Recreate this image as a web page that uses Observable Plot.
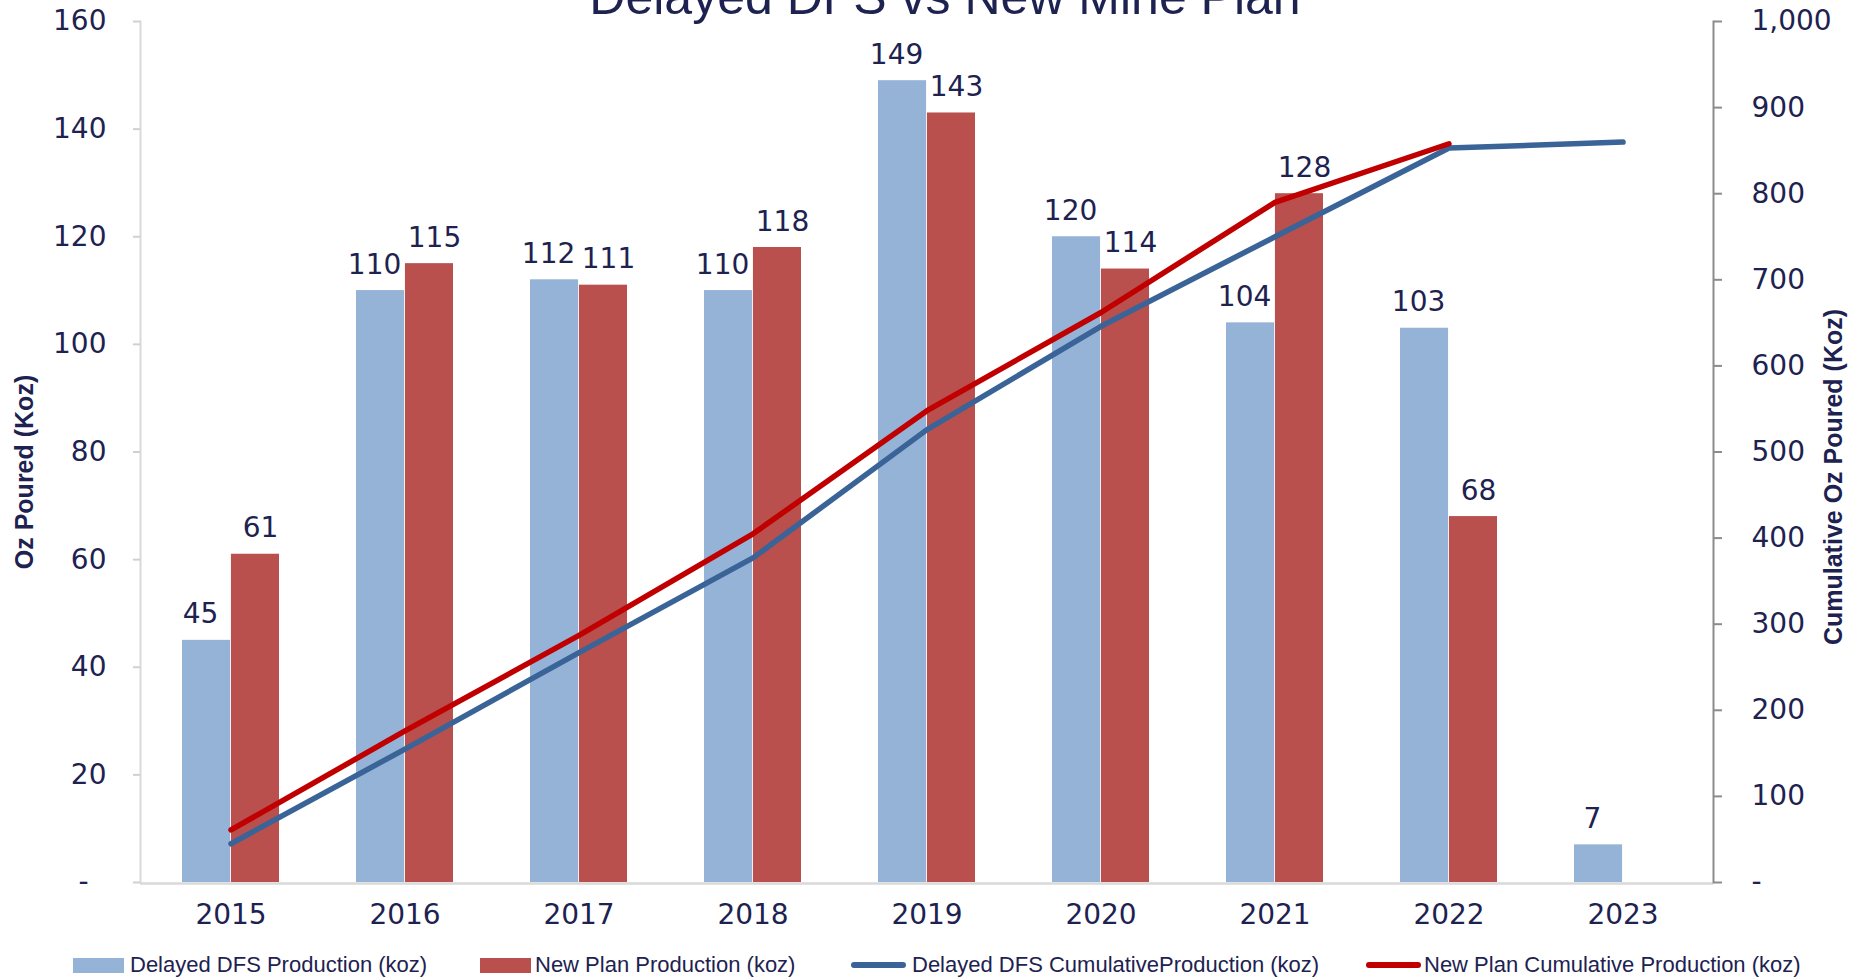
<!DOCTYPE html>
<html>
<head>
<meta charset="utf-8">
<script src="https://cdn.jsdelivr.net/npm/d3@7"></script>
<script src="https://cdn.jsdelivr.net/npm/@observablehq/plot@0.6"></script>
<style>
  html, body { margin: 0; padding: 0; background: #fff; }
  body { width: 1857px; height: 977px; overflow: hidden; position: relative; }
  #title { position: absolute; left: 0; width: 1890px; top: -28px; text-align: center;
           font-family: "Liberation Sans", Arial, sans-serif; font-size: 50px; line-height: 50px; color: #1d2250; }
  .ylab { position: absolute; font-family: "Liberation Sans", Arial, sans-serif; font-weight: bold; font-size: 25px;
          color: #1d2250; white-space: nowrap; transform: translate(-50%, -50%) rotate(-90deg); }
  #legend { position: relative; height: 37px; font-family: "Liberation Sans", Arial, sans-serif; font-size: 22px; color: #1d2250; }
  .sw { position: absolute; }
  .lt { position: absolute; top: 14px; line-height: 22px; white-space: nowrap; }
</style>
</head>
<body>
<div id="chart"></div>
<div id="legend"></div>
<div id="title"></div>
<script>
const chartTitle = "Delayed DFS vs New Mine Plan";
const years = ["2015", "2016", "2017", "2018", "2019", "2020", "2021", "2022", "2023"];
const delayedProd = [45, 110, 112, 110, 149, 120, 104, 103, 7];
const newPlanProd = [61, 115, 111, 118, 143, 114, 128, 68, null];
const delayedCum = [45, 155, 267, 377, 526, 646, 750, 853, 860];
const newPlanCum = [61, 176, 287, 405, 548, 662, 790, 858, null];
const leftTicks = [0, 20, 40, 60, 80, 100, 120, 140, 160];
const rightTicks = [0, 100, 200, 300, 400, 500, 600, 700, 800, 900, 1000];
const leftLabel = "Oz Poured (Koz)";
const rightLabel = "Cumulative Oz Poured (Koz)";
const seriesNames = ["Delayed DFS Production (koz)", "New Plan Production (koz)",
                     "Delayed DFS CumulativeProduction (koz)", "New Plan Cumulative Production (koz)"];

const navy = "#1d2250";
const cBlueBar = "#95b3d7", cRedBar = "#b9504d", cBlueLine = "#3a6497", cRedLine = "#c00000";

const leftMax = leftTicks[leftTicks.length - 1];
const rightMax = rightTicks[rightTicks.length - 1];
const k = leftMax / rightMax;

const prodD = years.map((y, i) => ({year: y, value: delayedProd[i]})).filter(d => d.value != null);
const prodN = years.map((y, i) => ({year: y, value: newPlanProd[i]})).filter(d => d.value != null);
const cumD = years.map((y, i) => ({year: y, value: delayedCum[i]})).filter(d => d.value != null);
const cumN = years.map((y, i) => ({year: y, value: newPlanCum[i]})).filter(d => d.value != null);

const W = 1857, H = 940;
const mL = 140, mR = 144, mT = 21, mB = 58;
const pi = 0.44, po = 0.22;
const step = (W - mL - mR) / (years.length - pi + 2 * po);
const half = step * (1 - pi) / 2;

const fmtR = d => { const v = Math.round(d / k); return v === 0 ? "-" : d3.format(",")(v); };

const plot = Plot.plot({
  width: W, height: H,
  marginLeft: mL, marginRight: mR, marginTop: mT, marginBottom: mB,
  style: {fontFamily: "DejaVu Sans, sans-serif", color: navy, background: "#fff"},
  x: {domain: years, paddingInner: pi, paddingOuter: po, label: null},
  y: {domain: [0, leftMax], label: null},
  marks: [
    Plot.barY(prodD, {x: "year", y: "value", fill: cBlueBar, insetRight: half}),
    Plot.barY(prodN, {x: "year", y: "value", fill: cRedBar, insetLeft: half}),
    Plot.ruleY([0], {stroke: "#d9d9d9", strokeWidth: 2.5, dy: 1}),
    Plot.frame({anchor: "left", stroke: "#d9d9d9", strokeWidth: 2}),
    Plot.frame({anchor: "right", stroke: "#8c8c8c", strokeWidth: 2}),
    Plot.axisY(leftTicks, {anchor: "left", tickSize: 7, tickPadding: 27, stroke: "#d0d0d0", strokeWidth: 2,
      fill: navy, fontSize: 28, label: null,
      tickFormat: d => d === 0 ? "-\u00a0\u00a0" : String(d)}),
    Plot.axisY(rightTicks.map(v => v * k), {anchor: "right", tickSize: 8, tickPadding: 30, stroke: "#8c8c8c", strokeWidth: 2,
      fill: navy, fontSize: 28, label: null, tickFormat: fmtR}),
    Plot.axisX({anchor: "bottom", tickSize: 0, tickPadding: 22, fill: navy, fontSize: 28, label: null}),
    Plot.line(cumD, {x: "year", y: d => d.value * k, stroke: cBlueLine, strokeWidth: 5.5, strokeLinecap: "round", strokeLinejoin: "round"}),
    Plot.line(cumN, {x: "year", y: d => d.value * k, stroke: cRedLine, strokeWidth: 5.5, strokeLinecap: "round", strokeLinejoin: "round"}),
    Plot.text(prodD, {x: "year", y: "value", text: d => String(d.value), dx: -half / 2 - 6, dy: -17, lineAnchor: "bottom", fill: navy, fontSize: 28}),
    Plot.text(prodN, {x: "year", y: "value", text: d => String(d.value), dx: half / 2 + 5, dy: -17, lineAnchor: "bottom", fill: navy, fontSize: 28})
  ]
});
document.getElementById("chart").appendChild(plot);

document.getElementById("title").textContent = chartTitle;

const l1 = document.createElement("div");
l1.className = "ylab"; l1.textContent = leftLabel;
l1.style.left = "24px"; l1.style.top = "472px";
document.body.appendChild(l1);
const l2 = document.createElement("div");
l2.className = "ylab"; l2.textContent = rightLabel;
l2.style.left = "1833px"; l2.style.top = "477px";
document.body.appendChild(l2);

const legend = document.getElementById("legend");
const items = [
  {type: "rect", color: cBlueBar, sx: 73, tx: 130},
  {type: "rect", color: cRedBar, sx: 480, tx: 535},
  {type: "line", color: cBlueLine, sx: 851, tx: 912},
  {type: "line", color: cRedLine, sx: 1366, tx: 1424}
];
items.forEach((it, i) => {
  const s = document.createElement("div");
  s.className = "sw";
  s.style.background = it.color;
  s.style.left = it.sx + "px";
  if (it.type === "rect") { s.style.width = "51px"; s.style.height = "15px"; s.style.top = "18px"; }
  else { s.style.width = "55px"; s.style.height = "6px"; s.style.top = "22px"; s.style.borderRadius = "3px"; }
  legend.appendChild(s);
  const t = document.createElement("div");
  t.className = "lt"; t.textContent = seriesNames[i]; t.style.left = it.tx + "px";
  legend.appendChild(t);
});
</script>
</body>
</html>
